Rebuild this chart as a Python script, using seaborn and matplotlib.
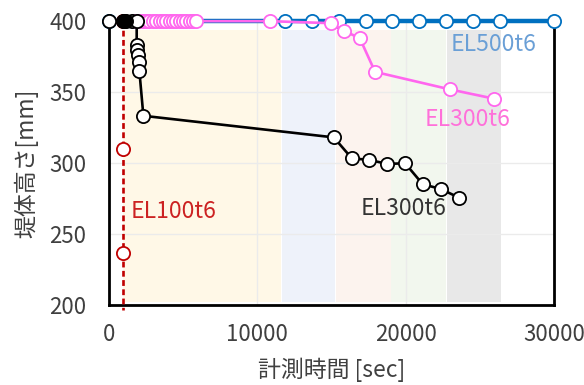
import matplotlib
matplotlib.use("Agg")
import matplotlib.pyplot as plt
import seaborn as sns

# --- measurement data -------------------------------------------------------
# EL500t6 (crest stays at full height)
el500_time = [0, 11880, 13680, 15510, 17330, 19080, 20900, 22710, 24540, 26360, 30000]
el500_height = [400, 400, 400, 400, 400, 400, 400, 400, 400, 400, 400]

# EL300t6 (pink series)
el300p_time = [1850, 2080, 2300, 2530, 2750, 2980, 3200, 3430, 3650, 3880, 4100,
               4330, 4550, 4780, 5000, 5230, 5450, 5680, 5900, 10870,
               14940, 15850, 16910, 17940, 22970, 25970]
el300p_height = [400, 400, 400, 400, 400, 400, 400, 400, 400, 400, 400,
                 400, 400, 400, 400, 400, 400, 400, 400, 400,
                 398.6, 393.2, 388.0, 364.3, 352.0, 345.4]

# EL100t6 (collapse at almost constant time)
el100_time = [1000, 1000, 1000, 1000]
el100_height = [400, 310, 237, 197]

# EL300t6 (black series)
el300k_time = [0, 1560, 1890, 1890, 1930, 2000, 2030, 2070, 2340,
               15160, 16370, 17560, 18770, 19960, 21150, 22360, 23580]
el300k_height = [400, 400, 400, 383.1, 379.6, 376.1, 371.4, 364.9, 333.4,
                 318.2, 303.5, 302.3, 299.5, 300.0, 285.2, 281.9, 275.8]
# densely logged readings at the crest
el300k_dense_time = [950, 1050, 1150]
el300k_dense_height = [400, 400, 400]

# experiment stages (shaded periods)
stage_start = [1000, 11640, 15280, 19020, 22790]
stage_end = [11590, 15220, 18980, 22740, 26400]
stage_colors = ["#FFF8E7", "#EEF2FA", "#FCF3EE", "#F2F7EE", "#E8E8E8"]

x_ticks = [0, 10000, 20000, 30000]
y_ticks = [200, 250, 300, 350, 400]

# --- figure -----------------------------------------------------------------
sns.set_theme(style="white")
plt.rcParams["font.family"] = ["Noto Sans CJK JP", "DejaVu Sans"]

fig = plt.figure(figsize=(5.84, 3.85), dpi=100)
ax = fig.add_axes([0.186, 0.207, 0.763, 0.738])

for s, e, c in zip(stage_start, stage_end, stage_colors):
    ax.fill_between([s, e], [202, 202], [393.5, 393.5], color=c, lw=0, zorder=0.2)

ax.set_axisbelow(True)
ax.grid(True, color="#EBEBEB", lw=1.0)

blue = "#0070C0"
pink = "#FF66EE"
red = "#C00000"

common = dict(ax=ax, sort=False, estimator=None, marker="o", clip_on=False,
              markerfacecolor="white", legend=False)

sns.lineplot(x=el500_time, y=el500_height, color=blue, lw=3.2, markersize=9.5,
             markeredgecolor=blue, markeredgewidth=1.3, zorder=3, **common)
sns.lineplot(x=el300p_time, y=el300p_height, color=pink, lw=1.9, markersize=9.5,
             markeredgecolor=pink, markeredgewidth=1.3, zorder=4, **common)
sns.lineplot(x=el100_time, y=el100_height, color=red, lw=1.9, markersize=9.5,
             markeredgecolor=red, markeredgewidth=1.3, linestyle=(0, (2.2, 1.3)),
             markevery=[0, 1, 2], zorder=5, **common)
sns.lineplot(x=el300k_time, y=el300k_height, color="black", lw=1.9, markersize=9.5,
             markeredgecolor="black", markeredgewidth=1.3, zorder=6, **common)
sns.scatterplot(x=el300k_dense_time, y=el300k_dense_height, ax=ax, s=95,
                color="black", edgecolor="black", linewidth=1.0, zorder=6.5,
                clip_on=False, legend=False)

# series labels
ax.text(25920, 383.8, "EL500t6", color="#6A9FD6", fontsize=16.5, ha="center", va="center")
ax.text(24140, 331.1, "EL300t6", color="#FF70DA", fontsize=16.5, ha="center", va="center")
ax.text(19850, 268.3, "EL300t6", color="#333333", fontsize=16.5, ha="center", va="center")
ax.text(4360, 266.0, "EL100t6", color="#CC2222", fontsize=16.5, ha="center", va="center")

ax.set_xlim(0, 30000)
ax.set_ylim(200, 400)
ax.set_xticks(x_ticks)
ax.set_yticks(y_ticks)
ax.tick_params(axis="both", length=0, labelsize=16, colors="#404040")
ax.tick_params(axis="y", pad=16)
ax.tick_params(axis="x", pad=13)
ax.set_xlabel("計測時間 [sec]", fontsize=16.5, color="#404040", labelpad=8)
ax.set_ylabel("堤体高さ[mm]", fontsize=16.5, color="#404040", labelpad=8)

for side in ["left", "right", "bottom", "top"]:
    ax.spines[side].set_color("black")
    ax.spines[side].set_linewidth(2.0)
    ax.spines[side].set_visible(True)

fig.savefig("out.png", dpi=100)
